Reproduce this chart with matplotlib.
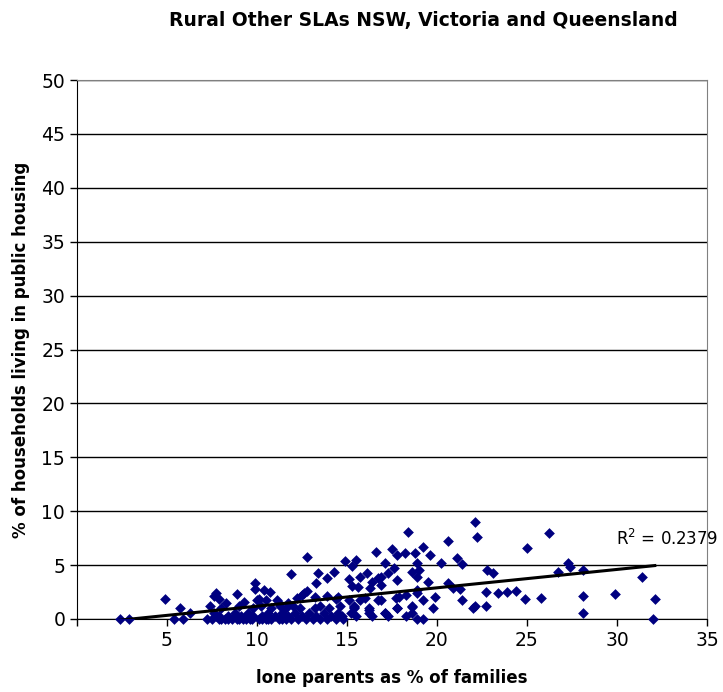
import numpy as np
import matplotlib
matplotlib.use("Agg")
import matplotlib.pyplot as plt

plt.rcParams['font.family'] = ['DejaVu Sans']

# lone parents as % of families (x) vs % households in public housing (y)
lone_low = [2.4, 2.9, 5.4, 5.9, 7.5, 7.9, 8.2, 8.6, 9.0, 9.4, 9.7, 10.1, 10.5, 10.8, 11.2, 11.6,
            11.9, 12.3, 12.7, 13.1, 13.5, 13.9, 14.4, 14.8, 7.2, 8.4, 9.2, 10.6, 11.4, 18.9, 19.2, 32.0,
            8.0, 8.9, 9.6, 10.3,
            7.7, 8.4, 9.1, 9.8, 10.3, 11.0, 11.7, 12.5, 13.3, 14.1, 14.7, 15.5, 16.4, 17.3, 18.3, 7.9, 9.4,
            6.3, 7.6, 8.8, 9.5, 10.6, 11.4, 12.1, 12.9, 13.7, 14.5, 15.2, 16.2, 17.1, 18.6, 28.1,
            5.7, 8.0, 9.8, 10.8, 11.6, 12.4, 13.2, 14.0, 15.4, 16.2, 17.8, 19.8, 22.0,
            7.4, 9.0, 10.2, 11.3, 12.0, 13.5, 14.6, 15.4, 18.6, 22.1, 22.7]
public_low = [0.0] * 36 + [0.3] * 17 + [0.6] * 15 + [1.0] * 13 + [1.25] * 11

lone_mid = [4.9, 9.9, 9.9, 7.7, 7.9, 9.3, 10.7, 10.1, 8.3, 11.1, 10.5, 10.0, 11.7, 12.5, 13.2,
            14.4, 16.0, 16.9, 17.9, 12.8, 14.9, 11.9, 13.4, 14.3, 13.3, 13.9, 15.1, 12.8, 12.6,
            12.2, 13.9, 14.5, 11.2, 15.5, 15.3, 15.3, 18.4, 16.6, 17.5, 17.8, 18.2, 18.8, 17.1,
            17.6, 18.9, 15.7, 16.1, 16.4, 16.7, 16.9, 17.3, 17.8, 18.6, 18.9, 15.6, 16.3, 16.9,
            15.1, 15.7, 16.7, 17.7, 18.3, 18.9, 15.4, 16.2, 17.1, 17.8, 18.6, 7.6, 8.9, 10.4]
public_mid = [1.85, 3.3, 2.75, 2.4, 1.9, 1.6, 2.5, 1.9, 1.5, 1.8, 1.75, 1.75, 1.5, 2.2, 2.0,
              1.85, 1.95, 1.75, 2.0, 5.75, 5.4, 4.15, 4.25, 4.35, 3.35, 3.8, 3.7, 2.6, 2.4,
              1.95, 2.1, 2.0, 1.5, 5.5, 4.9, 3.05, 8.1, 6.2, 6.5, 5.95, 6.1, 6.1, 5.2,
              4.7, 5.2, 3.9, 4.25, 3.45, 3.8, 3.9, 4.25, 3.6, 4.4, 3.9, 3.0, 2.9, 3.15,
              1.75, 1.75, 1.75, 1.95, 2.2, 2.7, 1.1, 0.8, 0.55, 1.0, 1.1, 2.1, 2.3, 2.7]

lone_high = [22.1, 22.2, 20.6, 19.2, 19.6, 20.2, 21.1, 21.4, 19.0, 22.8, 19.5, 20.6, 21.3, 22.7,
             18.9, 19.2, 19.9, 21.4, 20.9, 26.2, 25.0, 23.1, 26.7, 23.4, 23.9, 24.4, 24.9, 25.8,
             27.3, 27.4, 28.1, 31.4, 28.1, 29.9, 32.1]
public_high = [9.0, 7.6, 7.25, 6.7, 5.9, 5.2, 5.65, 5.1, 4.55, 4.55, 3.45, 3.3, 2.8, 2.5,
               2.4, 1.75, 2.05, 1.75, 2.9, 8.0, 6.6, 4.25, 4.4, 2.4, 2.5, 2.6, 1.85, 1.95,
               5.2, 4.8, 4.55, 3.9, 2.1, 2.3, 1.85]

x = np.array(lone_low + lone_mid + lone_high)
y = np.array(public_low + public_mid + public_high)

fig = plt.figure(figsize=(7.23, 6.92), dpi=100)
ax = fig.add_axes([77 / 723, 1 - 619 / 692, 630 / 723, 539 / 692])

ax.scatter(x, y, marker='D', s=30, color='#000080', linewidths=0, zorder=3, clip_on=False)

# linear trendline like excel
slope, icpt = np.polyfit(x, y, 1)
xt = np.array([x.min(), x.max()])
ax.plot(xt, slope * xt + icpt, color='black', lw=2.2, zorder=4)
ax.text(29.95, 7.4, 'R$^2$ = 0.2379', fontsize=12, va='center', ha='left', clip_on=False)

ax.set_xlim(0, 35)
ax.set_ylim(0, 50)
ax.set_xticks(range(0, 36, 5))
ax.set_xticklabels([''] + [str(v) for v in range(5, 36, 5)])
ax.set_yticks(range(0, 51, 5))
ax.yaxis.grid(True, color='black', lw=1)
ax.set_axisbelow(True)
ax.tick_params(labelsize=13.5, length=5, width=1, direction='out')
for s in ['top', 'right']:
    ax.spines[s].set_color('#808080')
for s in ['left', 'bottom']:
    ax.spines[s].set_color('black')

ax.set_xlabel('lone parents as % of families', fontsize=12, fontweight='bold', labelpad=14)
ax.set_ylabel('% of households living in public housing', fontsize=12, fontweight='bold', labelpad=8)
fig.text(0.585, 0.971, 'Rural Other SLAs NSW, Victoria and Queensland', fontsize=13.5,
         fontweight='bold', ha='center', va='center')

fig.savefig('out.png', dpi=100)
